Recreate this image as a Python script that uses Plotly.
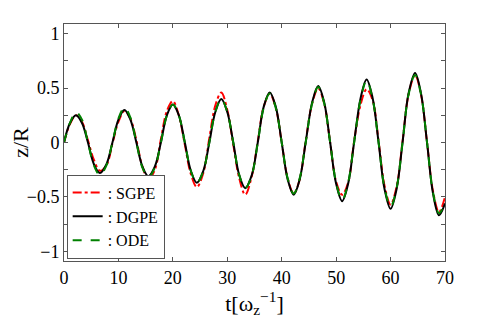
import plotly.graph_objects as go

# time samples (units of 1/omega_z), roughly every 1/8 period
t = [0, 1.1, 2.2, 3.3, 4.4, 5.5, 6.6, 7.8,
     8.9, 10.0, 11.1, 12.2, 13.3, 14.4, 15.5, 16.7,
     17.8, 18.9, 20.0, 21.1, 22.2, 23.3, 24.4, 25.6,
     26.7, 27.8, 28.9, 30.0, 31.1, 32.2, 33.3, 34.5,
     35.6, 36.7, 37.8, 38.9, 40.0, 41.1, 42.2, 43.3,
     44.4, 45.6, 46.7, 47.8, 48.9, 50.0, 51.1, 52.2,
     53.3, 54.5, 55.6, 56.7, 57.8, 58.9, 60.0, 61.1,
     62.2, 63.3, 64.5, 65.6, 66.7, 67.8, 68.9, 70.0]

sgpe = [0.0, 0.17, 0.25, 0.19, 0.02, -0.16, -0.26, -0.21,
        -0.01, 0.19, 0.29, 0.22, 0.02, -0.22, -0.34, -0.25,
        0.03, 0.29, 0.38, 0.25, -0.02, -0.29, -0.41, -0.28,
        0.04, 0.34, 0.46, 0.30, -0.02, -0.33, -0.48, -0.31,
        0.01, 0.33, 0.45, 0.32, 0.0, -0.33, -0.47, -0.34,
        0.01, 0.36, 0.50, 0.36, 0.0, -0.36, -0.48, -0.37,
        0.01, 0.35, 0.49, 0.39, 0.01, -0.40, -0.57, -0.41,
        0.01, 0.44, 0.62, 0.44, 0.0, -0.45, -0.64, -0.50]

dgpe = [0.0, 0.18, 0.25, 0.18, 0.0, -0.20, -0.28, -0.20,
        0.0, 0.21, 0.30, 0.21, 0.0, -0.22, -0.31, -0.22,
        0.0, 0.25, 0.35, 0.25, 0.0, -0.26, -0.37, -0.26,
        0.0, 0.28, 0.40, 0.28, 0.0, -0.30, -0.42, -0.30,
        0.0, 0.33, 0.46, 0.33, 0.0, -0.34, -0.48, -0.34,
        0.0, 0.37, 0.52, 0.37, 0.0, -0.38, -0.54, -0.38,
        0.0, 0.41, 0.58, 0.41, 0.0, -0.43, -0.61, -0.43,
        0.0, 0.45, 0.64, 0.45, 0.0, -0.47, -0.67, -0.56]

ode = [0.0, 0.18, 0.28, 0.21, 0.0, -0.21, -0.30, -0.21,
       0.0, 0.22, 0.32, 0.23, 0.0, -0.23, -0.32, -0.23,
       0.0, 0.25, 0.35, 0.25, 0.0, -0.26, -0.37, -0.26,
       0.0, 0.28, 0.40, 0.28, 0.0, -0.30, -0.42, -0.30,
       0.0, 0.32, 0.45, 0.32, 0.0, -0.33, -0.47, -0.33,
       0.0, 0.36, 0.51, 0.36, 0.0, -0.37, -0.53, -0.37,
       0.0, 0.40, 0.57, 0.40, 0.0, -0.42, -0.59, -0.42,
       0.0, 0.44, 0.62, 0.44, 0.0, -0.46, -0.65, -0.55]

serif = "Times New Roman, Liberation Serif, DejaVu Serif, serif"

fig = go.Figure()
fig.add_trace(go.Scatter(x=t, y=sgpe, name=": SGPE", mode="lines",
                         line=dict(color="#ff0000", width=2, dash="dashdot", shape="spline")))
fig.add_trace(go.Scatter(x=t, y=dgpe, name=": DGPE", mode="lines",
                         line=dict(color="black", width=2, shape="spline")))
fig.add_trace(go.Scatter(x=t, y=ode, name=": ODE", mode="lines",
                         line=dict(color="#008000", width=2, dash="dash", shape="spline")))

axis_common = dict(showgrid=False, zeroline=False, showline=True, linecolor="#555",
                   linewidth=1, mirror="ticks", ticks="inside", ticklen=4,
                   tickcolor="#555", automargin=False,
                   tickfont=dict(family=serif, size=18, color="black"))

# page body adds an 8px offset, so the figure is drawn 8px smaller
fig.update_layout(
    width=483, height=319,
    margin=dict(l=56, r=46, t=16, b=66),
    paper_bgcolor="white", plot_bgcolor="white",
    font=dict(family=serif, color="black"),
    showlegend=True,
    legend=dict(x=0.007, y=0.01, xanchor="left", yanchor="bottom",
                bgcolor="white", bordercolor="#555", borderwidth=1,
                font=dict(family=serif, size=16), tracegroupgap=0),
    xaxis=dict(range=[0, 70], dtick=10, tick0=0,
               title=dict(text="t[ω<sub>z</sub><sup>−1</sup>]",
                          font=dict(family=serif, size=22), standoff=6),
               **axis_common),
    yaxis=dict(range=[-1.09, 1.09], dtick=0.5, tick0=0,
               minor=dict(dtick=0.25, ticks="inside", ticklen=4, tickcolor="#555"),
               title=dict(text="z/R", font=dict(family=serif, size=22), standoff=6),
               **axis_common),
)

fig.write_html("out.html")
